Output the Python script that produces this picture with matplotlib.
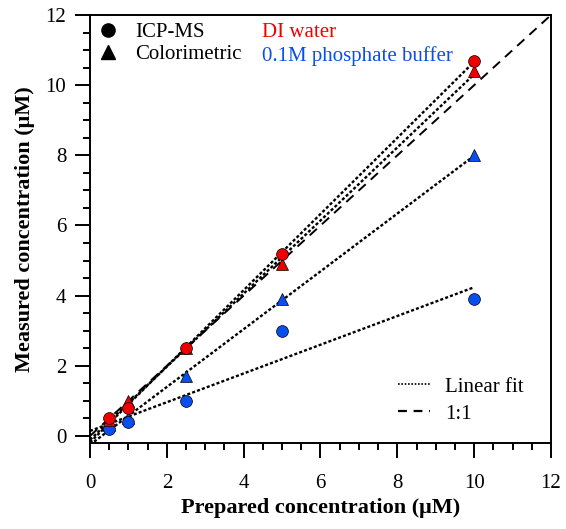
import matplotlib.pyplot as plt
import numpy as np
from matplotlib.lines import Line2D
from matplotlib.ticker import MultipleLocator

plt.rcParams["font.family"] = ["Liberation Serif", "DejaVu Serif"]

# prepared concentration (uM)
prepared = [0.5, 1.0, 2.5, 5.0, 10.0]
# measured concentration (uM)
di_icp = [0.5, 0.8, 2.5, 5.2, 10.7]
di_color = [0.45, 1.0, 2.5, 4.9, 10.4]
pb_icp = [0.2, 0.4, 1.0, 3.0, 3.9]
pb_color = [0.3, 0.5, 1.7, 3.9, 8.0]

RED = "#ee0000"
BLUE = "#0a4ef0"
DOTS = (0, (1.3, 0.9))

fig = plt.figure(figsize=(5.66, 5.29), dpi=100)
ax = fig.add_axes([0.159, 0.1626, 0.8145, 0.809])

x = np.array(prepared)
xfit = np.array([0.0, 10.0])
for ys in (di_icp, di_color, pb_icp, pb_color):
    k, b = np.polyfit(x, ys, 1)
    ax.plot(xfit, k * xfit + b, color="black", linestyle=DOTS, linewidth=1.7, zorder=2)

ax.plot([0, 12], [0, 12], color="black", linestyle=(0, (5, 3.5)), linewidth=1.4, zorder=2)

ms = 8.5
ax.plot(x, pb_color, "^", color=BLUE, mec="black", mew=0.5, ms=ms, zorder=3)
ax.plot(x, pb_icp, "o", color=BLUE, mec="black", mew=0.5, ms=ms, zorder=3)
ax.plot(x, di_color, "^", color=RED, mec="black", mew=0.5, ms=ms, zorder=4)
ax.plot(x, di_icp, "o", color=RED, mec="black", mew=0.5, ms=ms, zorder=4)

ax.set_xlim(0, 12)
ax.set_ylim(-0.2, 12)
ax.xaxis.set_major_locator(MultipleLocator(2))
ax.xaxis.set_minor_locator(MultipleLocator(0.5))
ax.yaxis.set_major_locator(MultipleLocator(2))
ax.yaxis.set_minor_locator(MultipleLocator(0.5))
ax.tick_params(which="both", direction="out", width=1.4, labelsize=15, top=False, right=False)
ax.tick_params(which="major", length=11)
ax.tick_params(axis="x", which="major", pad=11)
ax.tick_params(axis="y", which="major", pad=6)
ax.tick_params(which="minor", length=5)
for s in ax.spines.values():
    s.set_linewidth(1.4)

ax.set_xlabel("Prepared concentration (μM)", fontsize=16, fontweight="bold", labelpad=4)
ax.set_ylabel("Measured concentration (μM)", fontsize=16, fontweight="bold", labelpad=8)

marker_handles = [
    Line2D([], [], marker="o", color="black", linestyle="none", ms=9.5, label="ICP-MS"),
    Line2D([], [], marker="^", color="black", linestyle="none", ms=9.5, label="Colorimetric"),
]
leg1 = ax.legend(handles=marker_handles, loc="upper left", frameon=False, fontsize=15,
                 labelspacing=0.12, handlelength=1.0, handletextpad=0.8, borderpad=0,
                 borderaxespad=0, bbox_to_anchor=(0.017, 0.983))
ax.add_artist(leg1)

ax.text(0.373, 0.958, "DI water", color=RED, fontsize=15, transform=ax.transAxes, va="center")
ax.text(0.373, 0.905, "0.1M phosphate buffer", color=BLUE, fontsize=15, transform=ax.transAxes, va="center")

line_handles = [
    Line2D([], [], color="black", linestyle=(0, (1.0, 1.0)), linewidth=1.2, label="Linear fit"),
    Line2D([], [], color="black", linestyle=(0, (4, 3)), linewidth=1.6, label="1:1"),
]
ax.legend(handles=line_handles, loc="upper left", frameon=False, fontsize=15,
          labelspacing=0.35, handlelength=1.55, handletextpad=0.72, borderpad=0,
          borderaxespad=0, bbox_to_anchor=(0.668, 0.154))

fig.savefig("out.png", dpi=100, facecolor="white")
